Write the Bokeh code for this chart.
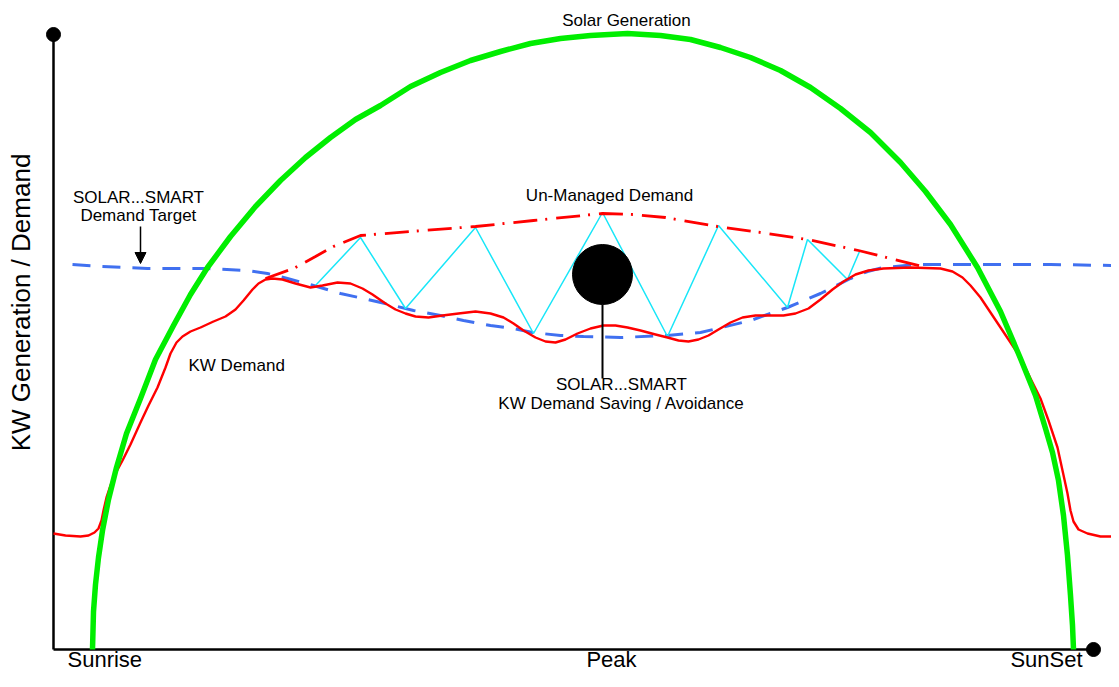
import math
from bokeh.plotting import figure
from bokeh.models import Range1d, Arrow, NormalHead
from bokeh.core.properties import value
from bokeh.embed import file_html
from bokeh.resources import INLINE

# ---- data (x = time position, y = kW height above the time axis) ----
solar_x = [92, 93, 95, 98, 102, 108, 116, 126, 140, 155, 173, 190, 207, 230, 255, 280, 305, 330,
           355, 380, 410, 440, 470, 500, 530, 560, 590, 627, 660, 690, 720, 750, 780, 810, 840,
           870, 900, 925, 950, 977, 1000, 1020, 1035, 1045, 1052, 1058, 1063, 1067, 1070, 1072, 1073]
solar_y = [0, 38, 65, 92, 119, 150, 182, 216, 251, 290, 324, 355, 382, 413, 443, 469, 492, 512,
           530, 544, 563, 577, 589, 598, 606, 611, 614, 616, 614, 610, 602, 592, 579, 562, 541,
           517, 487, 458, 425, 382, 338, 291, 254, 221, 197, 169, 134, 94, 54, 24, 0]

demand_x = [53, 65, 80, 88, 94, 98, 101, 103, 106, 110, 115, 122, 130, 140, 148, 157, 165, 170, 176,
            182, 190, 200, 213, 225, 235, 243, 252, 258, 265, 272, 282, 295, 310, 322, 337, 350,
            362, 372, 385, 395, 405, 415, 428, 442, 458, 475, 490, 503, 513, 523, 535, 545, 555,
            565, 577, 590, 603, 615, 627, 640, 655, 667, 678, 688, 698, 708, 718, 730, 742, 755,
            770, 783, 795, 808, 820, 832, 843, 855, 868, 883, 910, 940, 952, 962, 970, 980, 990,
            1000, 1010, 1020, 1030, 1040, 1048, 1053, 1057, 1062, 1067, 1070, 1073, 1078, 1087,
            1100, 1111]
demand_y = [116, 114, 113, 114, 117, 121, 129, 139, 152, 164, 176, 189, 205, 227, 244, 262, 282, 296,
            307, 313, 318, 322, 328, 333, 340, 349, 360, 366, 370, 371, 370, 366, 362, 364, 367, 366,
            361, 355, 346, 340, 336, 333, 332, 334, 336, 338, 336, 332, 326, 319, 312, 308, 307,
            310, 316, 321, 324, 324, 322, 319, 315, 312, 309, 308, 310, 314, 320, 327, 332, 334,
            334, 334, 336, 341, 350, 360, 368, 375, 379, 381, 382, 381, 378, 372, 364, 352, 337,
            322, 307, 292, 271, 251, 229, 214, 202, 179, 156, 139, 128, 120, 116,
            113, 113]

target_x = [72, 100, 147, 207, 247, 267, 287, 313, 340, 363, 393, 413, 440, 463, 490, 513, 532, 560,
            583, 620, 667, 700, 717, 750, 787, 820, 850, 867, 883, 917, 977, 1050, 1111]
target_y = [385, 383, 381, 381, 379, 376, 371, 364, 356, 351, 344, 339, 334, 329, 324, 321, 317, 314,
            313, 312, 314, 317, 321, 329, 342, 356, 371, 378, 382, 385, 385, 385, 384]

unmanaged_x = [265, 293, 315, 333, 360, 410, 475, 533, 602, 633, 665, 717, 760, 807, 858, 890, 922]
unmanaged_y = [371, 381, 393, 403, 414, 418, 423, 429, 436, 435, 432, 423, 417, 410, 399, 391, 383]

saving_x = [315, 360, 405, 475, 533, 602, 667, 718, 787, 807, 847, 859]
saving_y = [364, 412, 341, 422, 316, 437, 313, 424, 342, 410, 370, 398]

axis_x_end = 1093
axis_y_end = 615
axis_origin_x = 53

marker_x, marker_y, marker_r = 602, 375, 30
marker_stem_y = [345, 271]

time_labels = ["Sunrise", "Peak", "SunSet"]
time_label_x = [67, 611, 1046]
time_label_y = [-10, -10, -10]
time_label_align = ["left", "center", "center"]

FONT = value("Liberation Sans")

p = figure(width=1111, height=671, output_backend="svg", toolbar_location=None,
           x_range=Range1d(0, 1111), y_range=Range1d(-22, 649),
           min_border=0, background_fill_color="white", border_fill_color="white")
p.axis.visible = False
p.grid.visible = False
p.outline_line_color = None

# axes
p.line([axis_origin_x, axis_origin_x], [0, axis_y_end], line_color="black", line_width=2.5)
p.line([axis_origin_x, axis_x_end], [0, 0], line_color="black", line_width=2.5)
p.circle([axis_origin_x, axis_x_end], [axis_y_end, 0], radius=7, fill_color="black", line_color="black")

# curves
p.line(target_x, target_y, line_color="#4070f0", line_width=3, line_dash="18 12")
p.line(saving_x, saving_y, line_color="#18e6f8", line_width=1.5)
p.line(unmanaged_x, unmanaged_y, line_color="#ff0000", line_width=2.8, line_dash="24 8 2 9")
p.line(demand_x, demand_y, line_color="#ff0000", line_width=2.4, line_join="round")
p.line(solar_x, solar_y, line_color="#00ee00", line_width=5.5, line_join="round")

# saving marker
p.line([marker_x, marker_x], marker_stem_y, line_color="black", line_width=2)
p.circle([marker_x], [marker_y], radius=marker_r, fill_color="black", line_color="black")

# arrow to target
p.add_layout(Arrow(end=NormalHead(size=11, fill_color="black", line_color="black"),
                   x_start=140, y_start=423, x_end=140, y_end=386,
                   line_color="black", line_width=1.5))

# labels
small = dict(text_font=FONT, text_font_size="17px", text_color="black", text_baseline="alphabetic")
p.text(x=[626], y=[629.5], text=["Solar Generation"], text_align="center", **small)
p.text(x=[138, 138], y=[452.5, 434.5], text=["SOLAR...SMART", "Demand Target"], text_align="center", **small)
p.text(x=[609], y=[454.5], text=["Un-Managed Demand"], text_align="center", **small)
p.text(x=[188], y=[284.5], text=["KW Demand"], text_align="left", **small)
p.text(x=[621, 621], y=[265.5, 246.5], text=["SOLAR...SMART", "KW Demand Saving / Avoidance"],
       text_align="center", **small)

big = dict(text_font=FONT, text_font_size="22px", text_color="black", text_baseline="alphabetic")
for lab, lx, ly, al in zip(time_labels, time_label_x, time_label_y, time_label_align):
    p.text(x=[lx], y=[ly], text=[lab], text_align=al, **big)
p.text(x=[20], y=[347], text=["KW Generation / Demand"], angle=math.pi / 2, text_align="center",
       text_font=FONT, text_font_size="26px", text_color="black", text_baseline="alphabetic")

open("out.html", "w").write(file_html(p, INLINE))
